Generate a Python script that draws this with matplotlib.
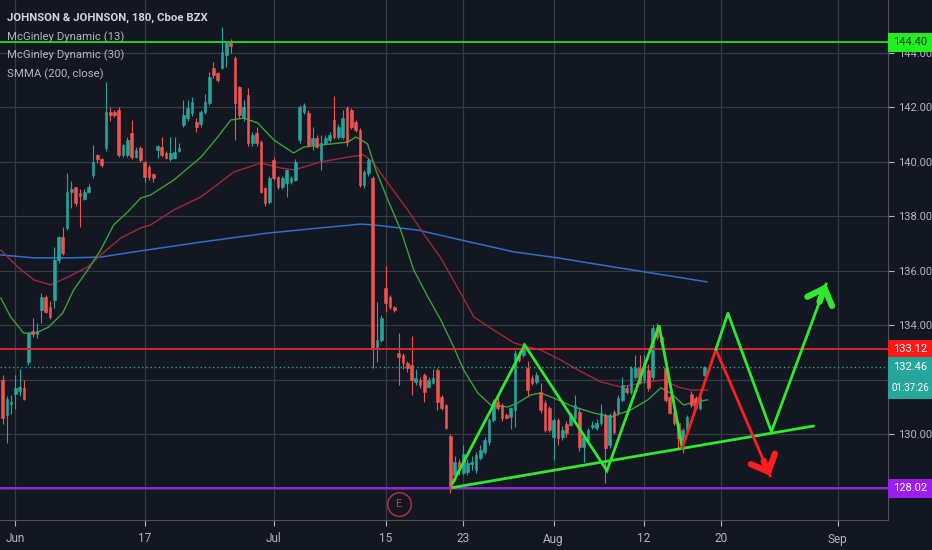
import matplotlib
matplotlib.use("Agg")
import matplotlib.pyplot as plt
from matplotlib import font_manager
from matplotlib.patches import Rectangle
from matplotlib.transforms import blended_transform_factory

# 180-minute bars, bar 0 = first bar of Jun 3
bar_index = list(range(-3, 161))
opens = [132.0, 130.7, 131.1, 131.5, 131.6, 131.7, 132.66, 133.78, 133.68, 134.57,
         135.05, 134.68, 134.93, 136.4, 137.25, 137.58, 138.9, 139.08, 138.85, 138.64,
         138.9, 139.52, 140.25, 140.1, 140.5, 141.83, 141.83, 141.9, 140.26, 140.26,
         141.06, 140.18, 140.51, 140.0, 139.82, 139.56, 140.44, 140.55, 140.33, 140.11,
         140.15, 140.4, 141.36, 141.6, 141.8, 141.47, 141.39, 141.83, 142.17, 143.45,
         143.27, 143.45, 143.93, 144.4, 143.82, 142.75, 141.6, 142.46, 140.7, 141.06,
         140.73, 139.05, 138.53, 140.07, 139.45, 139.08, 139.23, 139.27, 139.34, 140.81,
         141.83, 141.8, 140.62, 140.88, 140.07, 140.7, 140.81, 141.54, 140.92, 140.92,
         141.98, 141.9, 141.47, 141.17, 139.16, 139.6, 139.41, 133.17, 133.47, 135.38,
         135.05, 134.68, 133.0, 132.92, 132.62, 132.55, 131.93, 132.0, 132.18, 131.75,
         131.9, 132.37, 131.38, 131.08, 129.94, 128.52, 129.0, 128.6, 128.62, 128.9,
         128.7, 129.14, 129.36, 129.72, 130.53, 131.2, 131.08, 130.72, 130.64, 130.9,
         132.92, 132.92, 132.44, 132.07, 131.93, 131.56, 131.16, 130.97, 129.9, 130.53,
         129.9, 130.4, 130.35, 130.6, 130.83, 129.54, 129.8, 130.28, 130.24, 130.42,
         130.7, 129.6, 130.83, 130.8, 131.27, 131.7, 131.56, 132.11, 132.44, 132.0,
         132.37, 132.11, 133.94, 133.58, 132.44, 131.38, 130.83, 130.42, 129.8, 130.17,
         131.5, 131.34, 130.97, 132.2]
highs = [132.2, 131.4, 131.45, 132.2, 132.4, 132.0, 133.75, 134.27, 134.1, 135.2,
         135.1, 134.9, 136.88, 137.3, 137.6, 139.6, 139.3, 139.1, 139.0, 139.0,
         139.2, 140.62, 140.3, 140.15, 142.94, 142.0, 141.9, 142.0, 140.65, 140.9,
         141.54, 140.55, 140.6, 140.05, 139.9, 139.6, 140.62, 140.92, 140.4, 140.92,
         140.92, 140.7, 142.28, 142.28, 142.39, 141.6, 141.9, 142.5, 143.3, 143.68,
         143.3, 144.95, 144.4, 144.5, 143.9, 142.8, 142.28, 142.7, 141.1, 141.3,
         140.8, 139.1, 139.5, 140.2, 139.5, 139.5, 139.75, 139.5, 140.1, 142.1,
         142.17, 141.9, 141.28, 141.0, 141.0, 141.0, 141.1, 142.42, 141.4, 141.9,
         142.05, 141.98, 141.55, 141.25, 139.7, 140.15, 139.5, 134.86, 134.4, 136.2,
         135.1, 134.7, 133.73, 133.0, 132.7, 133.6, 132.4, 132.1, 132.25, 132.1,
         132.4, 132.45, 131.45, 131.1, 130.0, 129.2, 129.1, 129.6, 129.1, 129.2,
         129.35, 129.6, 129.9, 130.6, 131.3, 131.45, 131.15, 130.8, 131.0, 133.1,
         133.05, 133.36, 132.7, 132.2, 132.3, 131.9, 131.25, 131.05, 130.6, 130.6,
         130.3, 130.5, 130.8, 131.45, 131.0, 130.0, 130.25, 130.5, 130.55, 131.1,
         130.8, 130.8, 130.9, 131.45, 132.1, 131.8, 132.5, 132.9, 132.9, 132.9,
         132.6, 134.02, 134.1, 133.65, 132.5, 131.45, 130.9, 130.5, 130.25, 130.7,
         131.6, 131.4, 131.6, 132.5]
lows = [130.4, 129.7, 130.75, 130.95, 131.4, 131.25, 132.55, 133.58, 133.55, 134.1,
        134.45, 134.25, 134.64, 136.3, 136.6, 137.5, 138.3, 138.4, 137.6, 138.6,
        138.85, 139.4, 139.95, 139.8, 140.4, 141.5, 141.65, 140.2, 140.2, 140.2,
        140.1, 140.15, 140.0, 139.25, 139.34, 139.28, 140.15, 140.18, 140.1, 140.05,
        140.1, 140.35, 141.3, 141.5, 141.7, 141.11, 141.3, 141.75, 142.1, 143.1,
        142.95, 143.4, 143.5, 144.0, 140.8, 141.6, 141.5, 140.6, 140.6, 140.6,
        138.85, 138.4, 138.45, 139.35, 139.0, 139.0, 138.73, 139.2, 139.3, 140.7,
        141.75, 140.55, 140.44, 140.5, 139.71, 140.65, 140.75, 140.85, 140.85, 140.85,
        140.6, 141.2, 141.1, 139.1, 139.05, 139.5, 132.44, 132.66, 133.4, 134.5,
        134.6, 134.5, 131.8, 132.4, 132.3, 131.45, 131.8, 131.7, 131.2, 131.7,
        131.85, 130.9, 130.9, 130.2, 127.85, 128.3, 128.5, 128.5, 128.5, 128.7,
        128.6, 129.05, 129.3, 129.6, 130.45, 130.9, 130.5, 130.55, 130.2, 130.28,
        132.65, 132.85, 131.4, 131.8, 131.85, 130.8, 130.1, 130.1, 129.06, 129.6,
        129.8, 129.9, 130.3, 130.5, 129.4, 128.99, 129.7, 130.2, 130.15, 130.35,
        128.22, 129.5, 130.0, 130.7, 131.2, 131.5, 131.5, 132.05, 131.85, 131.9,
        131.6, 132.0, 133.5, 133.3, 131.2, 130.75, 130.35, 129.5, 129.32, 130.1,
        131.0, 130.9, 130.9, 132.15]
closes = [130.6, 131.3, 131.2, 131.7, 131.75, 131.3, 133.73, 133.68, 133.8, 135.05,
          134.5, 134.3, 136.4, 137.25, 136.66, 138.9, 139.0, 138.5, 138.75, 138.9,
          139.1, 140.0, 140.1, 139.9, 141.83, 141.72, 141.72, 140.26, 140.62, 140.81,
          140.18, 140.44, 140.07, 139.45, 139.45, 139.41, 140.59, 140.26, 140.15, 140.33,
          140.37, 140.51, 141.72, 141.98, 142.2, 141.28, 141.83, 142.2, 143.12, 143.19,
          143.0, 144.04, 144.37, 144.26, 142.17, 141.72, 142.0, 140.7, 141.0, 140.7,
          138.9, 138.5, 139.41, 139.41, 139.08, 139.41, 139.7, 139.41, 140.0, 142.02,
          142.09, 140.62, 140.88, 140.55, 140.7, 140.88, 140.99, 140.92, 141.28, 141.6,
          140.73, 141.28, 141.17, 139.16, 139.63, 140.07, 133.17, 133.47, 134.27, 134.83,
          134.68, 134.57, 132.85, 132.62, 132.44, 132.0, 132.07, 131.8, 131.56, 132.0,
          132.07, 131.2, 130.97, 130.24, 128.04, 129.0, 128.8, 129.3, 128.95, 129.0,
          129.25, 129.43, 129.8, 130.53, 131.2, 130.97, 130.6, 130.6, 130.97, 133.0,
          132.73, 133.2, 131.63, 131.89, 132.18, 130.9, 130.17, 130.17, 130.53, 129.87,
          130.17, 130.05, 130.72, 131.08, 129.54, 129.9, 130.17, 130.35, 130.42, 130.79,
          129.5, 130.7, 130.1, 131.34, 131.8, 131.56, 132.44, 132.44, 131.93, 132.66,
          131.7, 133.9, 133.58, 133.4, 131.27, 130.8, 130.42, 129.87, 130.17, 130.64,
          131.08, 130.97, 131.38, 132.46]

# indicator curves, read at sample bars
mg13_x = [-3.4, -1.1, 1.9, 4.7, 7.7, 11.0, 13.5, 16.8, 19.8, 22.8, 26.1, 29.1, 31.4,
          36.8, 43.1, 47.0, 50.0, 53.0, 56.3, 60.0, 64.6, 67.0, 70.9, 77.2, 79.1, 81.8,
          83.7, 86.5, 89.5, 92.5, 95.8, 98.8, 101.8, 104.1, 107.4, 110.4, 114.4, 116.7,
          119.7, 122.0, 125.0, 129.7, 134.3, 138.3, 142.9, 146.9, 149.9, 152.2, 155.2,
          157.6, 160.8]
mg13_y = [135.01, 134.31, 133.72, 133.72, 133.94, 134.46, 135.30, 136.04, 136.77,
          137.69, 138.17, 138.68, 138.79, 139.34, 140.18, 140.92, 141.54, 141.61, 141.43,
          140.81, 140.33, 140.55, 140.62, 140.73, 140.92, 140.66, 139.71, 138.61, 137.50,
          136.04, 135.05, 134.20, 133.21, 132.37, 131.52, 131.08, 131.01, 131.16, 131.45,
          131.52, 131.34, 131.01, 130.79, 130.64, 130.90, 131.27, 131.71, 131.52, 131.08,
          131.19, 131.27]
mg30_x = [-3.4, 0.5, 4.3, 8.2, 12.2, 16.8, 19.8, 24.5, 29.1, 31.4, 36.8, 43.1, 50.7,
          57.0, 61.6, 64.7, 70.9, 77.2, 80.9, 83.0, 86.5, 91.1, 95.8, 98.8, 103.4, 106.5,
          111.1, 115.8, 119.0, 122.0, 126.7, 130.6, 136.0, 140.6, 146.9, 150.6, 153.9,
          156.9, 160.8]
mg30_y = [136.77, 136.15, 135.67, 135.49, 135.78, 136.15, 136.59, 137.21, 137.58,
          137.69, 138.24, 138.72, 139.63, 139.96, 139.78, 139.71, 140.0, 140.18, 140.26,
          140.0, 139.23, 138.24, 137.14, 136.48, 135.19, 134.31, 133.83, 133.36, 133.21,
          133.10, 132.73, 132.37, 131.93, 131.74, 131.93, 132.0, 131.74, 131.63, 131.63]
smma_x = [-3.4, 4.3, 12.2, 19.8, 27.5, 43.1, 58.6, 70.9, 80.2, 83.2, 93.5, 103.4,
          115.8, 126.0, 136.0, 147.6, 160.6]
smma_y = [136.59, 136.48, 136.48, 136.51, 136.70, 137.06, 137.39, 137.58, 137.72,
          137.69, 137.50, 137.14, 136.70, 136.48, 136.22, 135.93, 135.60]

# drawn levels and pattern
level_top = 144.40
level_res = 133.12
level_sup = 128.02
last_price = 132.46
countdown = "01:37:26"
pattern_x = [101.5, 118.3, 137.4, 149.5, 154.9]
pattern_y = [128.2, 133.28, 128.67, 134.0, 129.5]
bear_x = [154.9, 162.7, 175.3]
bear_y = [129.5, 133.12, 128.48]
bull_x = [162.7, 165.5, 175.6, 188.3]
bull_y = [133.12, 134.45, 130.10, 135.52]
trend_x = [101.5, 185.4]
trend_y = [128.05, 130.31]
earnings_bar = 89

date_ticks = [0, 30, 60, 86, 104, 125, 146, 164, 191]
date_labels = ["Jun", "17", "Jul", "15", "23", "Aug", "12", "20", "Sep"]
price_ticks = [128, 130, 132, 134, 136, 138, 140, 142, 144]
hidden_ticks = [128, 132]  # covered by the price tags

BG = "#131722"
GRID = "#363a46"
TXT = "#b2b5be"
UP = "#26a69a"
DOWN = "#ef5350"
LIME = "#2fe82f"

installed = {f.name for f in font_manager.fontManager.ttflist}
narrow = "Liberation Sans Narrow" if "Liberation Sans Narrow" in installed else "Roboto"

fig = plt.figure(figsize=(9.32, 5.5), dpi=100, facecolor=BG)
ax = fig.add_axes([0, 30 / 550, 888 / 932, 520 / 550], facecolor=BG)
ax.set_xlim(-3.59, 202.68)
ax.set_ylim(126.86, 145.945)

ax.set_xticks(date_ticks)
ax.set_xticklabels(date_labels)
ax.set_yticks(price_ticks)
ax.set_yticklabels(["" if v in hidden_ticks else f"{v:.2f}" for v in price_ticks])
ax.yaxis.tick_right()
ax.tick_params(colors=TXT, labelsize=8, length=4, width=0.8)
ax.tick_params(axis="y", pad=3)
ax.tick_params(axis="x", pad=5, labelsize=8.5)
for lab in ax.get_xticklabels() + ax.get_yticklabels():
    lab.set_family(narrow)
ax.grid(True, color=GRID, lw=0.9)
ax.set_axisbelow(True)
for side in ["top", "left"]:
    ax.spines[side].set_visible(False)
for side in ["right", "bottom"]:
    ax.spines[side].set_color("#50535e")

# indicators
ax.plot(smma_x, smma_y, color="#2f6fd0", lw=1.1, zorder=2)
ax.plot(mg30_x, mg30_y, color="#a3263a", lw=1.0, zorder=2)
ax.plot(mg13_x, mg13_y, color="#37a33a", lw=1.0, zorder=2)

# candles
colors = [UP if c >= o else DOWN for o, c in zip(opens, closes)]
ax.vlines(bar_index, lows, highs, colors=colors, lw=0.8, zorder=3)
ax.bar(bar_index, [abs(c - o) for o, c in zip(opens, closes)],
       bottom=[min(o, c) for o, c in zip(opens, closes)], width=0.62,
       color=colors, edgecolor=colors, lw=0.4, zorder=4)

# horizontal levels
ax.axhline(level_top, color="#1fd21f", lw=1.4, zorder=5)
ax.axhline(level_res, color="#d8262c", lw=1.4, zorder=5)
ax.axhline(level_sup, color="#9a22e8", lw=1.4, zorder=5)
ax.axhline(last_price, color=UP, lw=1.0, ls=(0, (1, 2)), zorder=5)

# pattern drawings
ax.plot(trend_x, trend_y, color=LIME, lw=2, solid_capstyle="round", zorder=6)
ax.plot(pattern_x, pattern_y, color=LIME, lw=2, solid_joinstyle="miter", zorder=6)
ax.plot(bear_x, bear_y, color="#ff1c1c", lw=2, zorder=6)
ax.plot(bull_x, bull_y, color=LIME, lw=2, zorder=6)
for xs, ys, col in [(bear_x, bear_y, "#ff1c1c"), (bull_x, bull_y, LIME)]:
    tip = (xs[-1], ys[-1])
    back = (xs[-1] - 0.12 * (xs[-1] - xs[-2]), ys[-1] - 0.12 * (ys[-1] - ys[-2]))
    ax.annotate("", xy=tip, xytext=back,
                arrowprops=dict(arrowstyle="->,head_length=1.0,head_width=0.95",
                                color=col, lw=4.5, shrinkA=0, shrinkB=0,
                                capstyle="round", joinstyle="round"),
                zorder=7)

# earnings marker
tr_xa = blended_transform_factory(ax.transData, ax.transAxes)
ax.plot([earnings_bar], [0.031], transform=tr_xa, marker="o", ms=17, mfc="none",
        mec="#a8324a", mew=1.1, clip_on=False, zorder=6)
ax.text(earnings_bar, 0.031, "E", transform=tr_xa, color="#c23a55", fontsize=8,
        ha="center", va="center", family=narrow, zorder=7)

# price tags on the axis
tr_ad = blended_transform_factory(ax.transAxes, ax.transData)
tag_w = 44 / 888


def price_tag(value, label, face, fg, below=0.35, above=0.35):
    ax.add_patch(Rectangle((1.0, value - below), tag_w, below + above, transform=tr_ad,
                           facecolor=face, edgecolor="none", clip_on=False, zorder=20))
    ax.text(1.0 + tag_w / 2, value, label, transform=tr_ad, color=fg, fontsize=8,
            family=narrow, ha="center", va="center", clip_on=False, zorder=21)


price_tag(level_top, f"{level_top:.2f}", "#22ee22", "#1a3d1a")
price_tag(level_res, f"{level_res:.2f}", "#ff1616", "white")
price_tag(last_price, f"{last_price:.2f}", UP, "white", below=1.15, above=0.38)
ax.text(1.0 + tag_w / 2, last_price - 0.75, countdown, transform=tr_ad, color="white",
        fontsize=7, family=narrow, ha="center", va="center", clip_on=False, zorder=21)
price_tag(level_sup, f"{level_sup:.2f}", "#9c1cf2", "white")

# legend block
fig.text(7 / 932, 1 - 18 / 550, "JOHNSON & JOHNSON, 180, Cboe BZX", color="#d1d4dc",
         fontsize=8.2, fontweight="bold", family=narrow, va="center")
for k, name in enumerate(["McGinley Dynamic (13)", "McGinley Dynamic (30)", "SMMA (200, close)"]):
    fig.text(7 / 932, 1 - (37 + 18.7 * k) / 550, name, color=TXT, fontsize=8.2,
             family=narrow, va="center")

fig.savefig("out.png", dpi=100, facecolor=BG)
